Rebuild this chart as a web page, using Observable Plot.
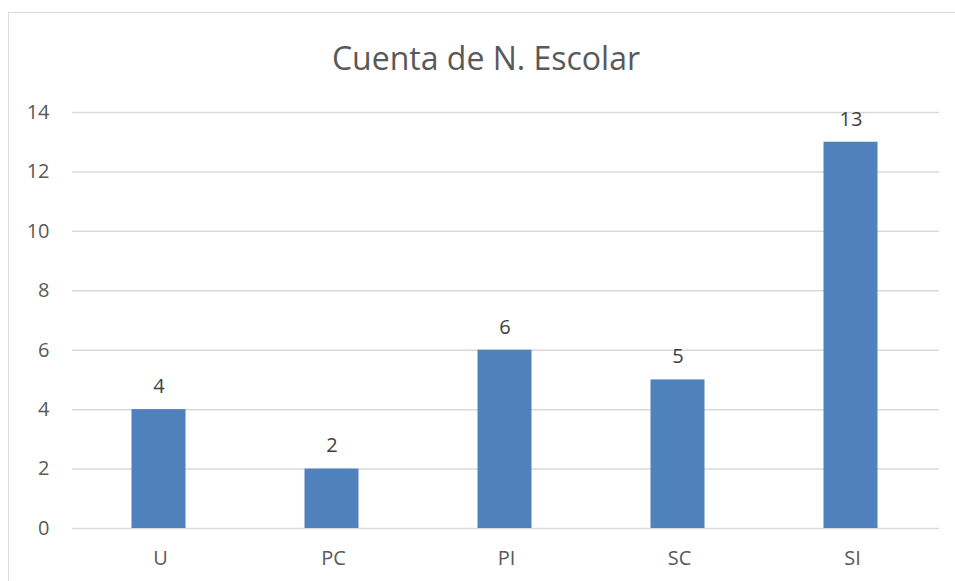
<!DOCTYPE html>
<html>
<head>
<meta charset="utf-8">
<script src="https://cdn.jsdelivr.net/npm/d3@7"></script>
<script src="https://cdn.jsdelivr.net/npm/@observablehq/plot@0.6"></script>
<style>
  html, body { margin: 0; padding: 0; background: #fff; }
  #wrap { position: relative; width: 955px; height: 581px; overflow: hidden; }
  #border { position: absolute; left: 8px; top: 12px; width: 1000px; height: 700px; border: 1.5px solid #d9d9d9; box-sizing: border-box; }
  #chart { position: absolute; left: 0; top: 0; }
</style>
</head>
<body>
<div id="wrap"><div id="border"></div><div id="chart"></div></div>
<script>
const categories = ["U", "PC", "PI", "SC", "SI"];
const counts = [4, 2, 6, 5, 13];
const yTicks = [0, 2, 4, 6, 8, 10, 12, 14];
const title = "Cuenta de N. Escolar";

const data = categories.map((c, i) => ({cat: c, value: counts[i]}));
const font = "'Open Sans', sans-serif";

const chart = Plot.plot({
  width: 955,
  height: 581,
  marginTop: 112,
  marginLeft: 72,
  marginRight: 16,
  marginBottom: 53,
  style: {fontFamily: font, fontSize: "20px", color: "#595959", background: "transparent"},
  x: {domain: categories, paddingInner: 0.69, paddingOuter: 0.345, label: null},
  y: {domain: [0, 14], ticks: yTicks, label: null},
  marks: [
    Plot.gridY(yTicks, {stroke: "#d9d9d9", strokeOpacity: 1, strokeWidth: 1.5}),
    Plot.axisY(yTicks, {tickSize: 0, tickPadding: 23, label: null, fill: "#595959", fontSize: 20}),
    Plot.axisX({tickSize: 0, tickPadding: 22, label: null, fill: "#595959", fontSize: 20}),
    Plot.barY(data, {x: "cat", y: "value", fill: "#4F81BD", dx: -1.5}),
    Plot.text(data, {x: "cat", y: "value", text: d => String(d.value), dy: -23, dx: -1.5, lineAnchor: "middle", fill: "#404040", fontSize: 20}),
    Plot.text([title], {frameAnchor: "top", dx: -20, dy: -53, lineAnchor: "middle", fill: "#595959", fontSize: 32})
  ]
});
document.getElementById("chart").appendChild(chart);
</script>
</body>
</html>
